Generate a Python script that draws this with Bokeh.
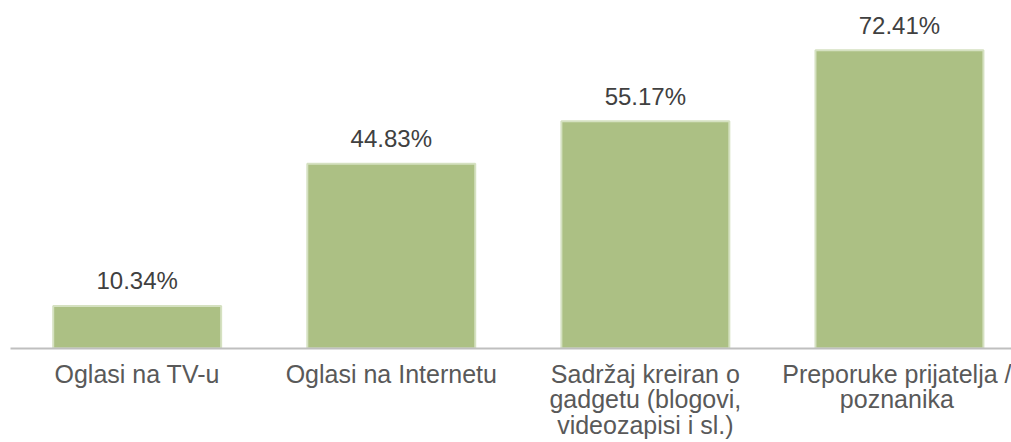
from bokeh.plotting import figure
from bokeh.models import ColumnDataSource, FixedTicker
from bokeh.core.properties import value
from bokeh.embed import file_html
from bokeh.resources import INLINE

categories = ["Oglasi na TV-u", "Oglasi na Internetu",
              "Sadržaj kreiran o\ngadgetu (blogovi,\nvideozapisi i sl.)",
              "Preporuke prijatelja /\npoznanika"]
values = [10.34, 44.83, 55.17, 72.41]
labels = ["10.34%", "44.83%", "55.17%", "72.41%"]

xs = list(range(len(categories)))
src = ColumnDataSource(dict(x=xs, top=values, label=labels))

p = figure(width=1011, height=442, output_backend="svg", toolbar_location=None,
           x_range=(-0.4986, 3.441), y_range=(0, 84.5),
           min_border_left=10, min_border_right=0, min_border_top=0, min_border_bottom=94)
p.outline_line_color = None
p.background_fill_color = "white"
p.border_fill_color = "white"
p.xgrid.visible = False
p.ygrid.visible = False
p.yaxis.visible = False

p.vbar(x="x", top="top", bottom=0, width=0.661, source=src,
       fill_color="#ACC084", line_color="#D5E1C1", line_width=2)

p.text(x="x", y="top", text="label", source=src, text_align="center",
       text_baseline="alphabetic", y_offset=-25,
       text_font=value("Liberation Sans"), text_font_size="24px", text_color="#404040")

ax = p.xaxis[0]
ax.ticker = FixedTicker(ticks=xs)
ax.major_label_overrides = {i: c for i, c in zip(xs, categories)}
ax.axis_line_color = "#BFBFBF"
ax.axis_line_width = 2
ax.major_tick_line_color = None
ax.minor_tick_line_color = None
ax.major_tick_out = 0
ax.major_tick_in = 0
ax.major_label_standoff = 11
ax.major_label_text_font = "Liberation Sans"
ax.major_label_text_font_size = "25px"
ax.major_label_text_color = "#595959"
ax.major_label_text_line_height = 0.92

open("out.html", "w").write(file_html(p, INLINE))
